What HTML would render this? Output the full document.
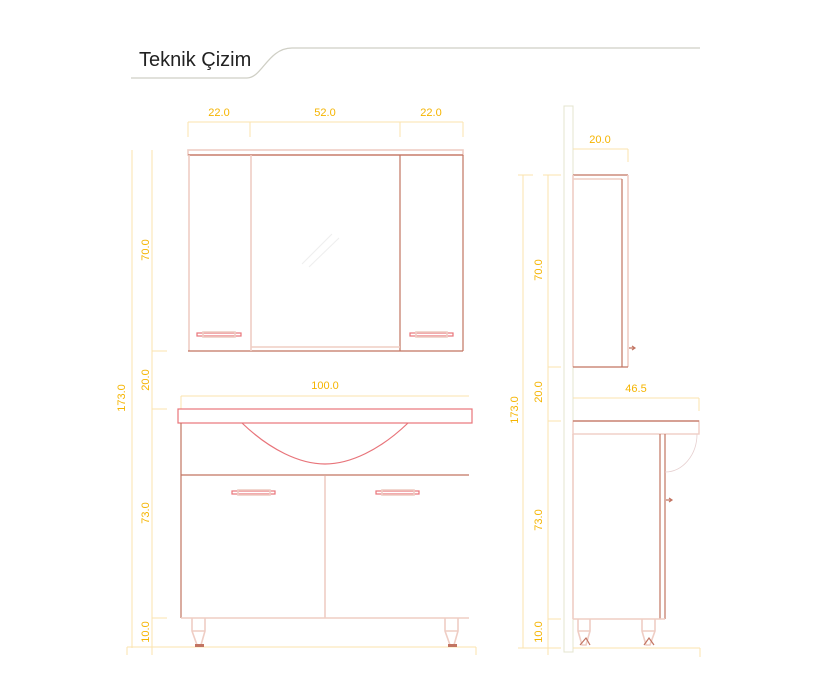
<!DOCTYPE html>
<html><head><meta charset="utf-8"><style>
html,body{margin:0;padding:0;background:#fff;width:830px;height:690px;overflow:hidden}
svg{display:block}
.d{stroke:#fbe3ad;stroke-width:1;fill:none}
.t{fill:#f5b400;font-family:"Liberation Sans",sans-serif;font-size:11px}
.c{stroke:#c27462;stroke-width:1.2;fill:none}
.p{stroke:#efcdc4;stroke-width:1.6;fill:none}
.r{stroke:#e8747a;stroke-width:1.2;fill:none}
</style></head><body>
<svg width="830" height="690" viewBox="0 0 830 690">
<text x="141" y="66" font-family="Liberation Sans,sans-serif" font-size="20" fill="#222" transform="translate(-2 0)">Teknik Çizim</text>
<path d="M131 78 H247 C262 78 268 48 292 48 H700" stroke="#cfcfc5" stroke-width="1.3" fill="none"/>

<line class="d" x1="188" y1="122" x2="463" y2="122"/>
<line class="d" x1="188" y1="122" x2="188" y2="137"/>
<line class="d" x1="250" y1="122" x2="250" y2="137"/>
<line class="d" x1="400" y1="122" x2="400" y2="137"/>
<line class="d" x1="463" y1="122" x2="463" y2="137"/>
<text class="t" x="219" y="116" text-anchor="middle">22.0</text>
<text class="t" x="325" y="116" text-anchor="middle">52.0</text>
<text class="t" x="431" y="116" text-anchor="middle">22.0</text>
<line class="d" x1="132" y1="150" x2="132" y2="648"/>
<line class="d" x1="152" y1="150" x2="152" y2="655"/>
<line class="d" x1="152" y1="351" x2="167" y2="351"/>
<line class="d" x1="152" y1="409" x2="167" y2="409"/>
<line class="d" x1="152" y1="618" x2="167" y2="618"/>
<line class="d" x1="127" y1="647" x2="476" y2="647"/>
<line class="d" x1="127" y1="647" x2="127" y2="655"/>
<line class="d" x1="476" y1="647" x2="476" y2="655"/>
<text class="t" transform="translate(149 250) rotate(-90)" text-anchor="middle">70.0</text>
<text class="t" transform="translate(149 380) rotate(-90)" text-anchor="middle">20.0</text>
<text class="t" transform="translate(125 398) rotate(-90)" text-anchor="middle">173.0</text>
<text class="t" transform="translate(149 513) rotate(-90)" text-anchor="middle">73.0</text>
<text class="t" transform="translate(149 632) rotate(-90)" text-anchor="middle">10.0</text>
<rect x="188" y="150" width="275" height="5" class="p"/>
<line class="c" x1="188" y1="155" x2="463" y2="155"/>
<line class="p" x1="189" y1="155" x2="189" y2="351"/>
<line class="c" x1="463" y1="155" x2="463" y2="351"/>
<line class="c" x1="188" y1="351" x2="463" y2="351"/>
<line class="p" x1="251" y1="155" x2="251" y2="351"/>
<line class="c" x1="400" y1="155" x2="400" y2="351"/>
<line class="p" x1="251" y1="347" x2="400" y2="347"/>
<line x1="302" y1="264" x2="332" y2="234" stroke="#eee" stroke-width="1"/>
<line x1="309" y1="267" x2="339" y2="238" stroke="#eee" stroke-width="1"/>
<rect x="197" y="333" width="44" height="3" class="r" stroke-width="0.8"/>
<rect x="203" y="332" width="32" height="5" class="p" stroke-width="0.8"/>
<rect x="410" y="333" width="43" height="3" class="r" stroke-width="0.8"/>
<rect x="416" y="332" width="31" height="5" class="p" stroke-width="0.8"/>
<line class="d" x1="181" y1="396" x2="469" y2="396"/>
<line class="d" x1="181" y1="396" x2="181" y2="409"/>
<text class="t" x="325" y="389" text-anchor="middle">100.0</text>
<rect x="178" y="409" width="294" height="14" class="r"/>
<path d="M242 423 C270 450 300 464 325 464 C350 464 380 450 408 423" class="r" stroke-width="1"/>
<line class="c" x1="181" y1="423" x2="181" y2="618"/>
<line class="c" x1="181" y1="475" x2="469" y2="475"/>
<line class="p" x1="325" y1="476" x2="325" y2="618"/>
<line class="p" x1="181" y1="618" x2="469" y2="618"/>
<rect x="232" y="491" width="43" height="3" class="r" stroke-width="0.8"/>
<rect x="238" y="490" width="32" height="5" class="p" stroke-width="0.8"/>
<rect x="376" y="491" width="43" height="3" class="r" stroke-width="0.8"/>
<rect x="382" y="490" width="32" height="5" class="p" stroke-width="0.8"/>
<path d="M192 618 V631 L197 645 H201 L205 631 V618 M192 631 H205" class="p" stroke-width="1"/>
<path d="M445 618 V631 L450 645 H454 L458 631 V618 M445 631 H458" class="p" stroke-width="1"/>
<rect x="195" y="644" width="9" height="3" fill="#c27462"/>
<rect x="448" y="644" width="9" height="3" fill="#c27462"/>

<rect x="564" y="106" width="9" height="546" fill="none" stroke="#e4e4cf" stroke-width="1"/>
<line class="d" x1="523" y1="175" x2="523" y2="648"/>
<line class="d" x1="548" y1="175" x2="548" y2="655"/>
<line class="d" x1="518" y1="175" x2="533" y2="175"/>
<line class="d" x1="543" y1="175" x2="561" y2="175"/>
<line class="d" x1="548" y1="367" x2="561" y2="367"/>
<line class="d" x1="548" y1="421" x2="561" y2="421"/>
<line class="d" x1="548" y1="619" x2="561" y2="619"/>
<line class="d" x1="518" y1="648" x2="561" y2="648"/>
<line class="d" x1="573" y1="648" x2="700" y2="648"/>
<line class="d" x1="700" y1="648" x2="700" y2="657"/>
<text class="t" transform="translate(542 270) rotate(-90)" text-anchor="middle">70.0</text>
<text class="t" transform="translate(542 392) rotate(-90)" text-anchor="middle">20.0</text>
<text class="t" transform="translate(518 410) rotate(-90)" text-anchor="middle">173.0</text>
<text class="t" transform="translate(542 520) rotate(-90)" text-anchor="middle">73.0</text>
<text class="t" transform="translate(542 632) rotate(-90)" text-anchor="middle">10.0</text>
<line class="d" x1="573" y1="149" x2="628" y2="149"/>
<line class="d" x1="628" y1="149" x2="628" y2="162"/>
<text class="t" x="600" y="143" text-anchor="middle">20.0</text>
<line class="c" x1="573" y1="175" x2="628" y2="175"/>
<line class="p" x1="573" y1="179" x2="622" y2="179"/>
<line class="p" x1="573" y1="175" x2="573" y2="367"/>
<line class="c" x1="622" y1="179" x2="622" y2="367"/>
<line class="p" x1="628" y1="175" x2="628" y2="367"/>
<line class="c" x1="573" y1="367" x2="628" y2="367"/>
<path d="M629 348 H635 M632 346 L635 348 L632 350" class="c" stroke-width="0.9"/>
<line class="d" x1="573" y1="398" x2="699" y2="398"/>
<line class="d" x1="699" y1="398" x2="699" y2="411"/>
<text class="t" x="636" y="392" text-anchor="middle">46.5</text>
<rect x="573" y="421" width="126" height="13" fill="none" stroke="#efcdc4" stroke-width="1.4"/>
<line class="c" x1="573" y1="421" x2="699" y2="421"/>
<line class="p" x1="573" y1="434" x2="573" y2="619"/>
<line class="c" x1="660" y1="434" x2="660" y2="619"/>
<line class="c" x1="665" y1="434" x2="665" y2="619"/>
<line class="p" x1="573" y1="619" x2="665" y2="619"/>
<path d="M665 472 A32 38 0 0 0 697 434" stroke="#e6cfcf" stroke-width="0.8" fill="none"/>
<path d="M666 500 H672 M669 498 L672 500 L669 502" class="c" stroke-width="0.9"/>
<path d="M578 619 V631 L582 645 H586 L590 631 V619 M578 631 H590" class="p" stroke-width="1"/>
<path d="M642 619 V631 L646 645 H650 L655 631 V619 M642 631 H655" class="p" stroke-width="1"/>
<path d="M580 645 L586 638 L590 645 M644 645 L649 638 L654 645" class="c" stroke-width="0.8"/>
</svg>
</body></html>
